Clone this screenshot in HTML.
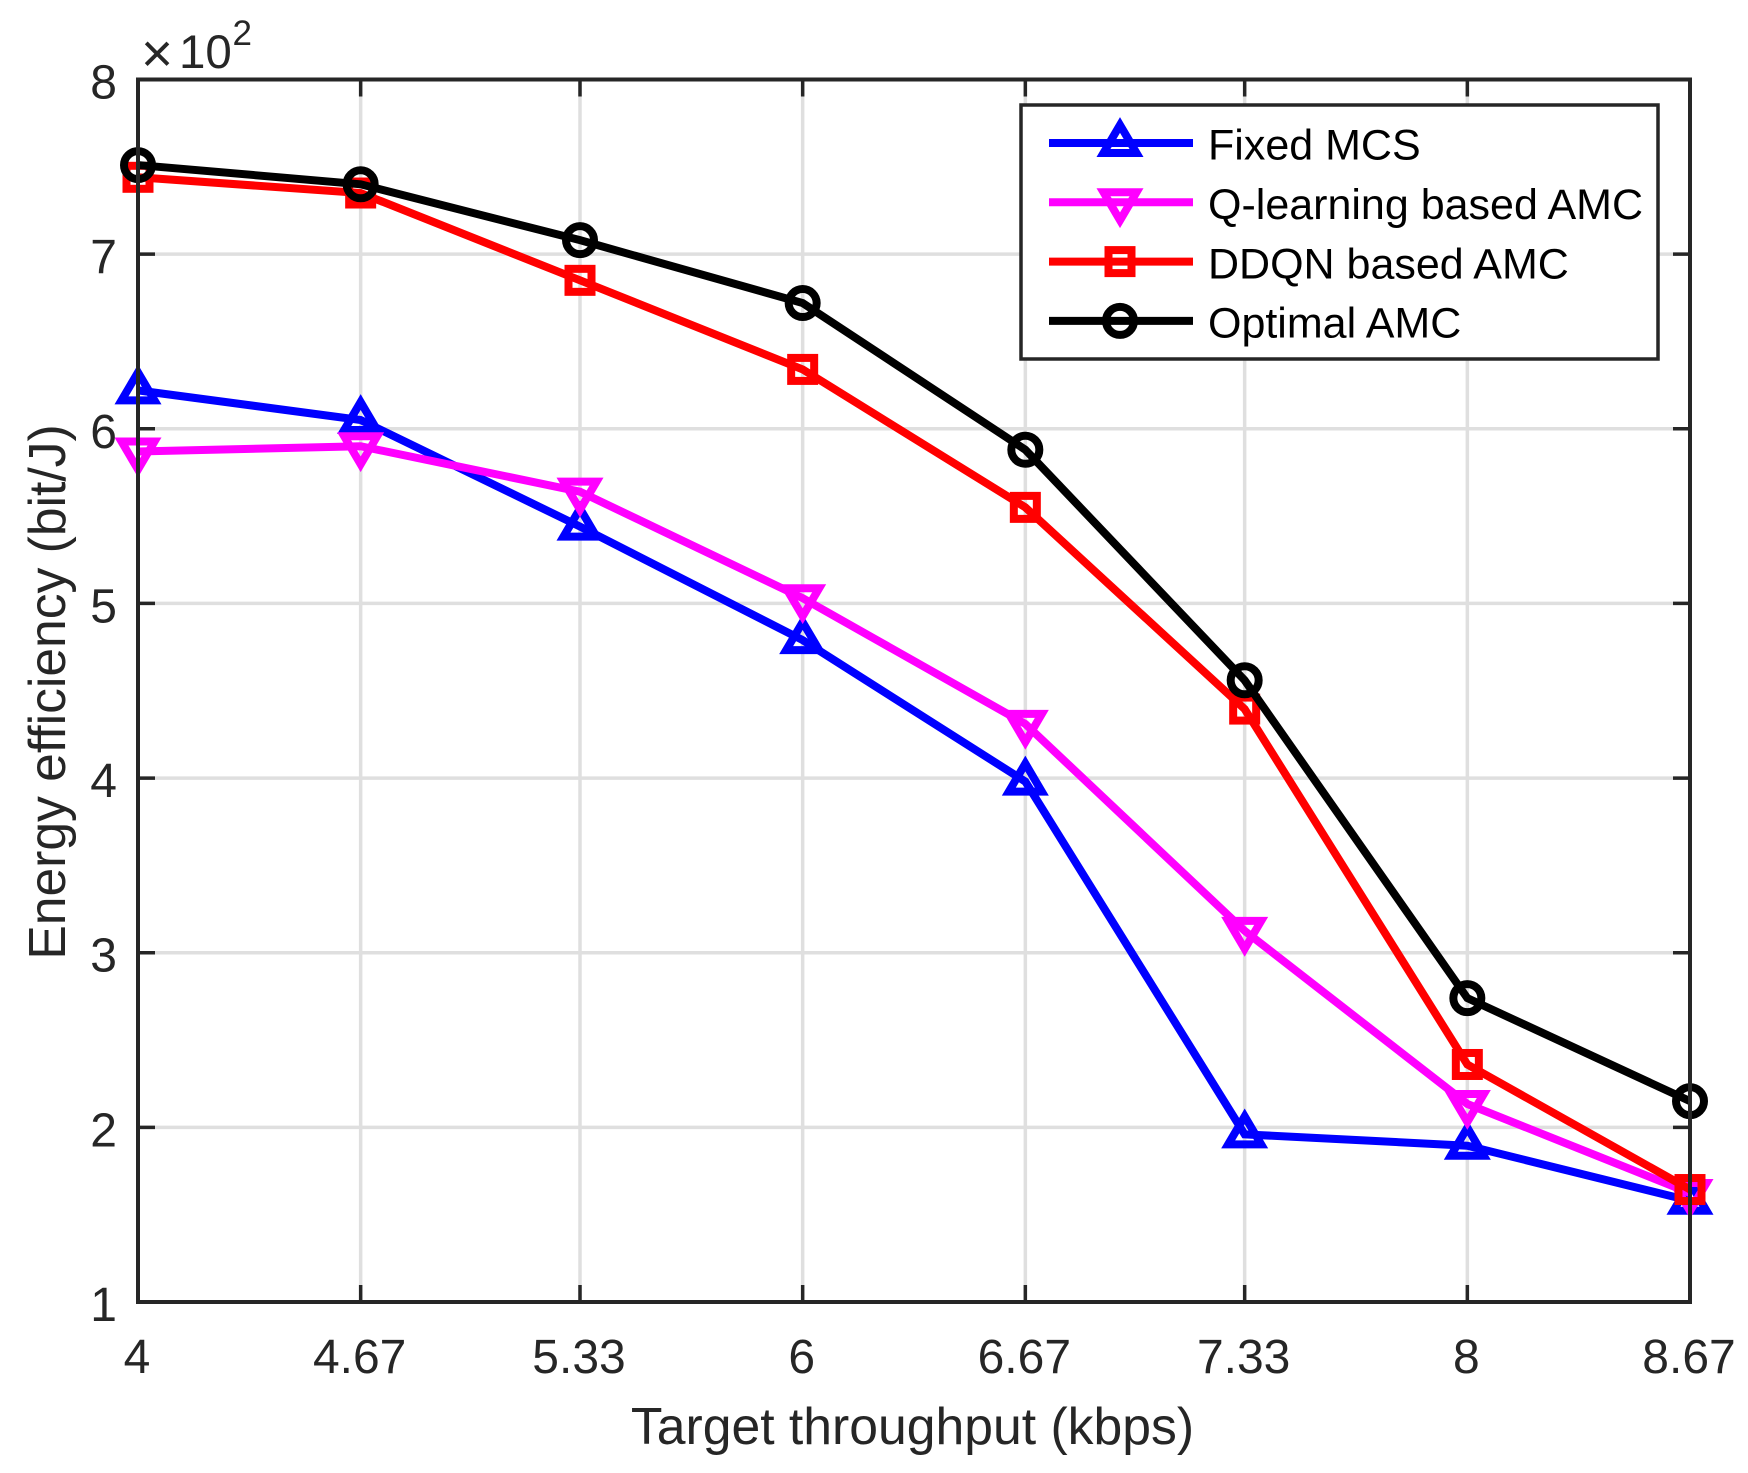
<!DOCTYPE html>
<html>
<head>
<meta charset="utf-8">
<title>Energy efficiency chart</title>
<style>
html,body{margin:0;padding:0;background:#fff;}
svg{display:block;}
text{font-family:"Liberation Sans",sans-serif;}
</style>
</head>
<body>
<svg id="chart" xmlns="http://www.w3.org/2000/svg" width="1748" height="1473" viewBox="0 0 1748 1473">
  <rect x="0" y="0" width="1748" height="1473" fill="#fff"/>
  <g id="grid"></g>
  <g id="series"></g>
  <g id="axes"></g>
  <g id="legend"></g>
  <text x="912.5" y="1444" font-size="51.7" fill="#262626" text-anchor="middle">Target throughput (kbps)</text>
  <text transform="translate(65,692) rotate(-90)" font-size="51.6" fill="#262626" text-anchor="middle">Energy efficiency (bit/J)</text>
  <g fill="#262626">
    <text x="141" y="72" font-size="55">×</text>
    <text x="179" y="68" font-size="47.5">10</text>
    <text x="232.5" y="45" font-size="35">2</text>
  </g>
</svg>
<script>
const xTicks = [4, 4.67, 5.33, 6, 6.67, 7.33, 8, 8.67];
const xTickLabels = ['4', '4.67', '5.33', '6', '6.67', '7.33', '8', '8.67'];
const yTicks = [1, 2, 3, 4, 5, 6, 7, 8];
const yTickLabels = ['1', '2', '3', '4', '5', '6', '7', '8'];
const categories = [4, 4.67, 5.33, 6, 6.67, 7.33, 8, 8.67];
const fixedMcs = [6.22, 6.05, 5.44, 4.79, 3.98, 1.96, 1.895, 1.58];
const qLearning = [5.87, 5.90, 5.64, 5.03, 4.31, 3.125, 2.134, 1.624];
const ddqn = [7.44, 7.35, 6.85, 6.34, 5.55, 4.395, 2.36, 1.644];
const optimal = [7.51, 7.40, 7.08, 6.72, 5.88, 4.56, 2.74, 2.15];

const NS = 'http://www.w3.org/2000/svg';
const L = 138, R = 1690, T = 79.5, B = 1302;
const xMin = 4, xMax = 8.67, yMin = 1, yMax = 8;
function xs(v) { return L + (v - xMin) / (xMax - xMin) * (R - L); }
function ys(v) { return B - (v - yMin) / (yMax - yMin) * (B - T); }
function mk(tag, attrs, parent) {
  const e = document.createElementNS(NS, tag);
  for (const k in attrs) e.setAttribute(k, attrs[k]);
  parent.appendChild(e);
  return e;
}
const grid = document.getElementById('grid');
const axes = document.getElementById('axes');
const seriesG = document.getElementById('series');
const legend = document.getElementById('legend');
const INK = '#262626', GRID = '#dfdfdf', TICK = 17;

xTicks.forEach(function (v, i) {
  const x = xs(v);
  if (i > 0 && i < xTicks.length - 1) {
    const g = mk('line', {x1: x, x2: x, y1: T, y2: B, stroke: GRID, 'stroke-width': 3.5}, grid);
    
    
    const t1 = mk('line', {x1: x, x2: x, y1: B, y2: B - TICK, stroke: INK, 'stroke-width': 3.5}, axes);
    
    
    const t2 = mk('line', {x1: x, x2: x, y1: T, y2: T + TICK, stroke: INK, 'stroke-width': 3.5}, axes);
    
    
  }
  const lab = mk('text', {x: x - 1, y: 1373, 'font-size': 48, fill: INK, 'text-anchor': 'middle'}, axes);
  lab.textContent = xTickLabels[i];
  
  
});
yTicks.forEach(function (v, i) {
  const y = ys(v);
  if (i > 0 && i < yTicks.length - 1) {
    const g = mk('line', {x1: L, x2: R, y1: y, y2: y, stroke: GRID, 'stroke-width': 3.5}, grid);
    
    
    const t1 = mk('line', {x1: L, x2: L + TICK, y1: y, y2: y, stroke: INK, 'stroke-width': 3.5}, axes);
    
    
    const t2 = mk('line', {x1: R, x2: R - TICK, y1: y, y2: y, stroke: INK, 'stroke-width': 3.5}, axes);
    
    
  }
  const lab = mk('text', {x: 117, y: y + 19, 'font-size': 48, fill: INK, 'text-anchor': 'end'}, axes);
  lab.textContent = yTickLabels[i];
  
  
});
const frame = mk('rect', {x: L, y: T, width: R - L, height: B - T, fill: 'none', stroke: INK, 'stroke-width': 4}, axes);



function drawMarker(kind, cx, cy, color, parent) {
  const sw = 8;
  let m;
  if (kind === 'up') {
    m = mk('polygon', {points: (cx) + ',' + (cy - 18) + ' ' + (cx + 16.5) + ',' + (cy + 10) + ' ' + (cx - 16.5) + ',' + (cy + 10), fill: 'none', stroke: color, 'stroke-width': sw, 'stroke-miterlimit': 10}, parent);
  } else if (kind === 'down') {
    m = mk('polygon', {points: (cx) + ',' + (cy + 18) + ' ' + (cx + 16.5) + ',' + (cy - 10) + ' ' + (cx - 16.5) + ',' + (cy - 10), fill: 'none', stroke: color, 'stroke-width': sw, 'stroke-miterlimit': 10}, parent);
  } else if (kind === 'square') {
    m = mk('rect', {x: cx - 11.5, y: cy - 11.5, width: 23, height: 23, fill: 'none', stroke: color, 'stroke-width': sw}, parent);
  } else {
    m = mk('circle', {cx: cx, cy: cy, r: 14, fill: 'none', stroke: color, 'stroke-width': sw}, parent);
  }
  
  
}

const seriesValues = [fixedMcs, qLearning, ddqn, optimal];
const seriesNames = ['Fixed MCS', 'Q-learning based AMC', 'DDQN based AMC', 'Optimal AMC'];
const seriesColors = ['#0000ff', '#ff00ff', '#ff0000', '#000000'];
const seriesMarkers = ['up', 'down', 'square', 'circle'];

seriesValues.forEach(function (vals, s) {
  const g = mk('g', {}, seriesG);
  
  
  const pts = vals.map(function (v, i) { return xs(categories[i]) + ',' + ys(v); }).join(' ');
  const line = mk('polyline', {points: pts, fill: 'none', stroke: seriesColors[s], 'stroke-width': 8, 'stroke-linejoin': 'miter'}, g);
  
  
  vals.forEach(function (v, i) {
    drawMarker(seriesMarkers[s], xs(categories[i]), ys(v), seriesColors[s], g);
  });
});

const box = mk('rect', {x: 1021, y: 105, width: 637, height: 254, fill: '#fff', stroke: INK, 'stroke-width': 3.5}, legend);


const legendRowStep = 59.3, legendRowStart = 143;
seriesNames.forEach(function (name, s) {
  const y = legendRowStart + s * legendRowStep;
  const g = mk('g', {}, legend);
  
  
  const l = mk('line', {x1: 1049, x2: 1193, y1: y, y2: y, stroke: seriesColors[s], 'stroke-width': 8}, g);
  
  
  drawMarker(seriesMarkers[s], 1120, y, seriesColors[s], g);
  const t = mk('text', {x: 1208, y: y + 16.7, 'font-size': 43, fill: '#000'}, g);
  t.textContent = name;
  
  
});
</script>
</body>
</html>
